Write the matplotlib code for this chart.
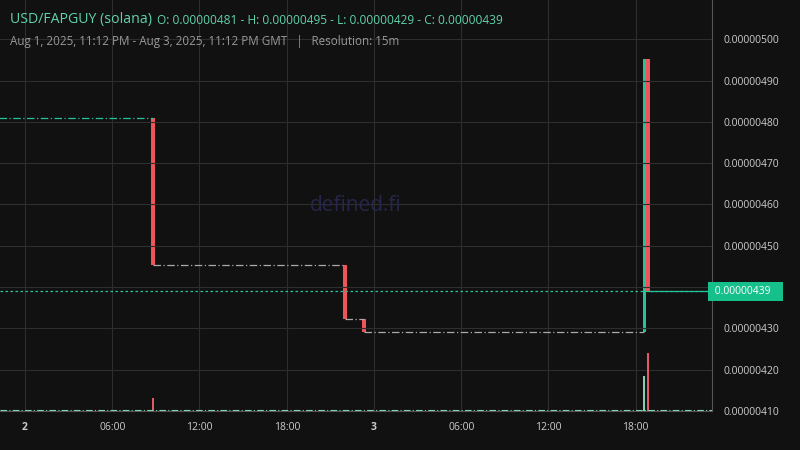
import matplotlib
matplotlib.use("Agg")
import matplotlib.pyplot as plt

plt.rcParams["font.family"] = ["Open Sans", "DejaVu Sans"]

# Data (hours since Aug 2 00:00 GMT, prices in units of 1e-8)
seg_start = [-1.8, 8.8, 22.0, 23.3, 42.85]
seg_end = [8.8, 22.0, 23.3, 42.6, 47.3]
seg_price = [481, 445.3, 432.3, 429.2, 439]
candle_t = [8.8, 22.0, 23.3, 42.6, 42.85]
candle_open = [481, 445.3, 432.3, 429.2, 495.2]
candle_close = [445.3, 432.3, 429.2, 495.2, 439]
vol_t = [8.8, 42.6, 42.85]
vol_val = [13, 35, 58]
last_price = 439
tick_hours = [0, 6, 12, 18, 24, 30, 36, 42]
tick_labels = ["2", "06:00", "12:00", "18:00", "3", "06:00", "12:00", "18:00"]
price_ticks = [410, 420, 430, 440, 450, 460, 470, 480, 490, 500]

BG = "#111111"
GREEN = "#26c29a"
RED = "#f0535a"
fig = plt.figure(figsize=(8, 4.5), dpi=100, facecolor=BG)
ax = fig.add_axes([0, 39/450, 712/800, 411/450], facecolor=BG)
ax.set_xlim(-1.72, 47.25)
ax.set_ylim(410, 509.5)
for s in ax.spines.values():
    s.set_visible(False)
ax.spines["right"].set_visible(True); ax.spines["right"].set_color("#555555")
ax.spines["bottom"].set_visible(True); ax.spines["bottom"].set_color("#555555")
ax.set_xticks(tick_hours)
ax.set_xticklabels(tick_labels)
ax.set_yticks(price_ticks)
ax.set_yticklabels(["" if p == 440 else f"{p*1e-8:.8f}" for p in price_ticks])
ax.yaxis.tick_right()
ax.tick_params(colors="#cccccc", labelsize=7.5, length=0, pad=8)
for lbl, h in zip(ax.get_xticklabels(), tick_hours):
    if h % 24 == 0:
        lbl.set_fontweight("bold")
ax.grid(True, color="#2e2e2e", linewidth=0.8)

w = 0.25
for i, (s, e, p) in enumerate(zip(seg_start, seg_end, seg_price)):
    c = GREEN if i in (0, len(seg_price) - 1) else "#aaaaaa"
    ls = "-" if i == len(seg_price) - 1 else (0, (6, 2, 1, 2))
    ax.plot([s, e], [p, p], color=c, lw=0.9, ls=ls)
for t, o, c in zip(candle_t, candle_open, candle_close):
    col = GREEN if c > o else RED
    ax.bar(t, abs(c - o), bottom=min(o, c), width=w, color=col, align="center")
ax.axhline(last_price, color=GREEN, lw=0.9, ls=(0, (2, 2)))
ax.text(1.0, last_price, f" {last_price*1e-8:.8f}   ", transform=ax.get_yaxis_transform(),
        ha="left", va="center", fontsize=7.5, color="white",
        bbox=dict(boxstyle="square,pad=0.4", fc="#16c08a", ec="none"))
ax.text(0.5, 0.5, "defined.fi", transform=ax.transAxes, ha="center", va="center",
        fontsize=15, color="#26264a")

vax = fig.add_axes([0, 39/450, 712/800, 100/450], facecolor="none", sharex=ax)
vax.set_ylim(0, 100)
vax.axis("off")
vcols = ["#e05a6a", "#7fd3b5", "#e05a6a"]
vax.bar(vol_t, vol_val, width=0.15, color=vcols)
vax.plot([-1.72, 47.25], [0.6, 0.6], color="#7fd3b5", lw=0.8, ls=(0, (6, 2, 1, 2)))

fig.text(10/800, 1 - 20/450, "USD/FAPGUY (solana)", color="#5fd3ac", fontsize=10.2, va="center")
fig.text(157/800, 1 - 20/450, "O: 0.00000481 - H: 0.00000495 - L: 0.00000429 - C: 0.00000439",
         color="#5fd3ac", fontsize=8.6, va="center")
fig.text(10/800, 1 - 41/450, "Aug 1, 2025, 11:12 PM - Aug 3, 2025, 11:12 PM GMT   |   Resolution: 15m",
         color="#999999", fontsize=8.4, va="center")
fig.savefig("out.png", dpi=100, facecolor=BG)
